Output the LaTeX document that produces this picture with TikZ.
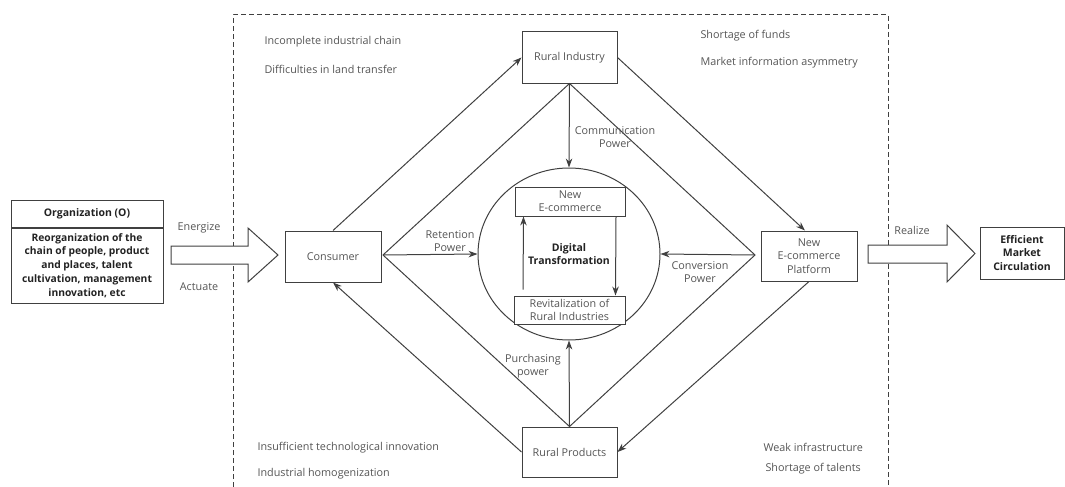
\documentclass[tikz,border=0pt]{standalone}
\usepackage{fontspec}
\setmainfont{Open Sans}
\usetikzlibrary{arrows.meta,positioning,shapes.geometric}
\definecolor{lncol}{HTML}{404040}
\definecolor{txcol}{HTML}{555555}
\definecolor{bdcol}{HTML}{222222}

\begin{document}
\begin{tikzpicture}[x=1pt,y=-1pt,line width=1pt,font=\fontsize{10.8}{13}\selectfont]
	\tikzstyle{box}=[draw=lncol, text=txcol, inner sep=2pt, align=center]
	\tikzstyle{note}=[text=txcol, anchor=west, inner sep=0pt]
	\tikzstyle{lab}=[text=txcol, align=center, inner sep=0pt]
	\tikzstyle{arr}=[draw=lncol, -{Stealth[length=9pt,width=6.5pt]}]
	\tikzstyle{ln}=[draw=lncol]
	\tikzstyle{fat}=[draw=lncol, fill=white, line join=miter]
	\useasboundingbox (0,0) rectangle (1065,487);
	% frame
	\draw[ln, dash pattern=on 5pt off 3pt] (233,495) -- (233,15) -- (888,15) -- (888,495);
	% left block
	\node[box, minimum width=152, minimum height=27, text=bdcol, font=\fontsize{10.5}{13}\selectfont\bfseries] (orgt) at (87,213.5) {Organization (O)};
	\node[box, below=0pt of orgt, minimum width=152, minimum height=75, inner sep=0pt, text=bdcol,
		font=\fontsize{10.3}{13.8}\selectfont\bfseries] (orgb) {Reorganization of the\\chain of people, product\\and places, talent\\cultivation, management\\innovation, etc};
	% main nodes
	\node[box, minimum width=96, minimum height=51] (cons) at (333,256.5) {Consumer};
	\node[box, minimum width=95, minimum height=51] (ind) at (569.5,57.5) {Rural Industry};
	\node[box, minimum width=95, minimum height=50] (prod) at (569.5,452) {Rural Products};
	\node[box, minimum width=96, minimum height=50, font=\fontsize{10.8}{13.5}\selectfont] (plat) at (809,256) {New\\E-commerce\\Platform};
	\node[box, minimum width=84, minimum height=52, inner sep=0pt, text=bdcol, font=\fontsize{10.5}{13.5}\selectfont\bfseries] (emc) at (1022,253) {Efficient\\Market\\Circulation};
	% circle
	\node[ellipse, draw=lncol, minimum width=182, minimum height=172, align=center, text=bdcol,
		font=\fontsize{10.5}{13}\selectfont\bfseries] (dt) at (569,254) {Digital\\Transformation};
	\node[box, fill=white, minimum width=110, minimum height=29, inner sep=0pt, font=\fontsize{10.8}{13}\selectfont] (nec) at (570,201.5) {New\\E-commerce};
	\node[box, fill=white, minimum width=111, minimum height=28, inner sep=0pt, font=\fontsize{10.8}{13}\selectfont] (rev) at (569.5,310) {Revitalization of\\Rural Industries};
	\draw[arr] ([xshift=-46.5pt,yshift=6pt]rev.north) -- ([xshift=-46.5pt]nec.south);
	\draw[arr] ([xshift=46pt]nec.south) -- ([xshift=46pt]rev.north);
	% diamond
	\coordinate (cr) at (383,255);
	\coordinate (pl) at (755,255);
	\draw[ln] (ind.south) -- (cr) -- (prod.north) -- (pl) -- cycle;
	\draw[arr] (ind.south) -- (dt.north);
	\draw[arr] (cr) -- (dt.west);
	\draw[arr] (pl) -- (dt.east);
	\draw[arr] (prod.north) -- (dt.south);
	% outer cycle
	\draw[arr] (cons.north) -- (ind.west);
	\draw[arr] (ind.east) -- ([xshift=-4pt]plat.north);
	\draw[arr] (plat.south) -- (prod.east);
	\draw[arr] (prod.west) -- (cons.south);
	% powers
	\node[lab] at (615,137) {Communication\\Power};
	\node[lab] at (450,241) {Retention\\Power};
	\node[lab] at (700,272) {Conversion\\Power};
	\node[lab] at (533,366) {Purchasing\\power};
	% problems
	\node[note] at (264,42) {Incomplete industrial chain};
	\node[note] at (264,69) {Difficulties in land transfer};
	\node[note] at (700,36) {Shortage of funds};
	\node[note] at (700,63) {Market information asymmetry};
	\node[note] at (257,448) {Insufficient technological innovation};
	\node[note] at (257,474) {Industrial homogenization};
	\node[note] at (763,447) {Weak infrastructure};
	\node[note] at (765,469) {Shortage of talents};
	% hollow arrows
	\draw[fat] (171,246) -- (248,246) -- (248,228) -- (278,255) -- (248,282) -- (248,264) -- (171,264) -- cycle;
	\draw[fat] (868,245) -- (947,245) -- (947,225) -- (975,253.5) -- (947,282) -- (947,263) -- (868,263) -- cycle;
	\node[lab] at (199,228) {Energize};
	\node[lab] at (199,287) {Actuate};
	\node[lab] at (912,230) {Realize};
\end{tikzpicture}
\end{document}
